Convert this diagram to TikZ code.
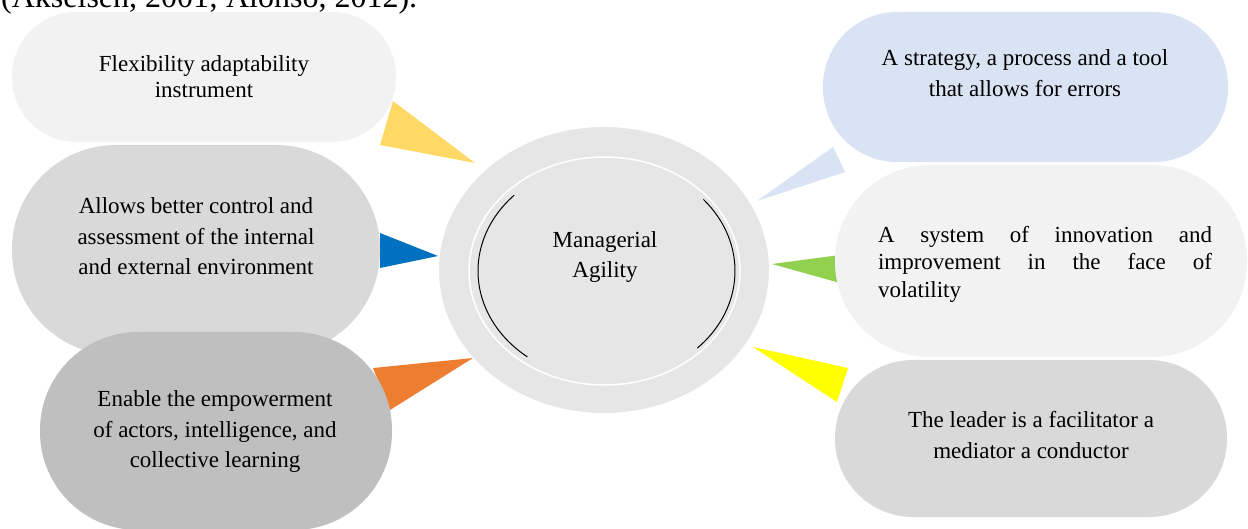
\documentclass[tikz,border=0pt]{standalone}
\usepackage{fontspec}
\setmainfont{Liberation Serif}
\usepackage{tikz}
\usetikzlibrary{shapes.geometric, positioning}
\definecolor{boxlight}{HTML}{F2F2F2}
\definecolor{boxmid}{HTML}{D9D9D9}
\definecolor{boxdark}{HTML}{BFBFBF}
\definecolor{boxblue}{HTML}{DAE3F3}
\definecolor{coregray}{HTML}{E6E6E6}
\definecolor{spokegold}{HTML}{FFD966}
\definecolor{spokeblue}{HTML}{0070C0}
\definecolor{spokeorange}{HTML}{ED7D31}
\definecolor{spokegreen}{HTML}{92D050}
\definecolor{spokeyellow}{HTML}{FFFF00}

\begin{document}
\begin{tikzpicture}[
    x=1pt, y=-1pt,
    capsule/.style n args={3}{rectangle, inner sep=0pt, minimum width=#1, minimum height=#2, rounded corners=#3},
    txt/.style={inner sep=0pt, align=center, font=\fontsize{23}{30.5}\selectfont}
]
\path[use as bounding box] (0,0) rectangle (1248,529);
\clip (0,0) rectangle (1248,529);

\node[anchor=base west, inner sep=0pt, font=\fontsize{32}{38}\selectfont] (cite) at (1,8) {(Akselsen, 2001; Alonso, 2012).};

% spokes
\fill[spokegold] (393,101) -- (380,145) -- (475,163) -- cycle;
\fill[spokeblue] (380,233) -- (380,268) -- (438,256) -- cycle;
\fill[spokeorange] (373,368) -- (390,410) -- (473,358) -- cycle;
\fill[boxblue] (833,147) -- (845,172) -- (757,201) -- cycle;
\fill[spokegreen] (840,255) -- (840,283) -- (772,264) -- cycle;
\fill[spokeyellow] (848,368) -- (837,402) -- (753,347) -- cycle;

% left side
\node[capsule={384pt}{130pt}{64pt}, fill=boxlight] (flex) at (204,77) {};
\node[capsule={368pt}{210pt}{104pt}, fill=boxmid] (ctrl) at (196,250) {};
\node[capsule={352pt}{198pt}{98pt}, fill=boxdark] (empow) at (216,431) {};

% right side
\node[capsule={405pt}{150pt}{74pt}, fill=boxblue] (strat) at (1025.5,87) {};
\node[capsule={412pt}{192pt}{95pt}, fill=boxlight] (innov) at (1041,261) {};
\node[capsule={392pt}{157pt}{78pt}, fill=boxmid] (lead) at (1031,438.5) {};

% centre
\node[ellipse, fill=coregray, inner sep=0pt, minimum width=330pt, minimum height=286pt] (core) at (604,270) {};
\node[ellipse, fill=coregray, draw=white, line width=1.5pt, inner sep=0pt, minimum width=271pt, minimum height=228pt] (inner) at (604.5,271) {};
\coordinate (rim) at (606.5,271);
\draw[line width=1pt] ([shift={(136:128.5pt and 109pt)}]rim) arc[start angle=136, end angle=232, x radius=128.5pt, y radius=109pt];
\draw[line width=1pt] ([shift={(-45:128.5pt and 109pt)}]rim) arc[start angle=-45, end angle=41, x radius=128.5pt, y radius=109pt];

% texts
\node[txt, font=\fontsize{23}{26}\selectfont] (flext) at (204,77) {Flexibility adaptability\\instrument};
\node[txt] (ctrlt) at (196,236.5) {Allows better control and\\assessment of the internal\\and external environment};
\node[txt] (empowt) at (215,432) {Enable the empowerment\\of actors, intelligence, and\\collective learning};
\node[txt] (stratt) at (1025,73) {A strategy, a process and a tool\\that allows for errors};
\node[txt, align=justify, text width=334pt, font=\fontsize{23}{27.5}\selectfont] (innovt) at (1045,264) {A system of innovation and\linebreak improvement in the face of\linebreak volatility};
\node[txt] (leadt) at (1031,435) {The leader is a facilitator a\\mediator a conductor};
\node[txt] (coret) at (605,257) {Managerial\\Agility};
\end{tikzpicture}
\end{document}
